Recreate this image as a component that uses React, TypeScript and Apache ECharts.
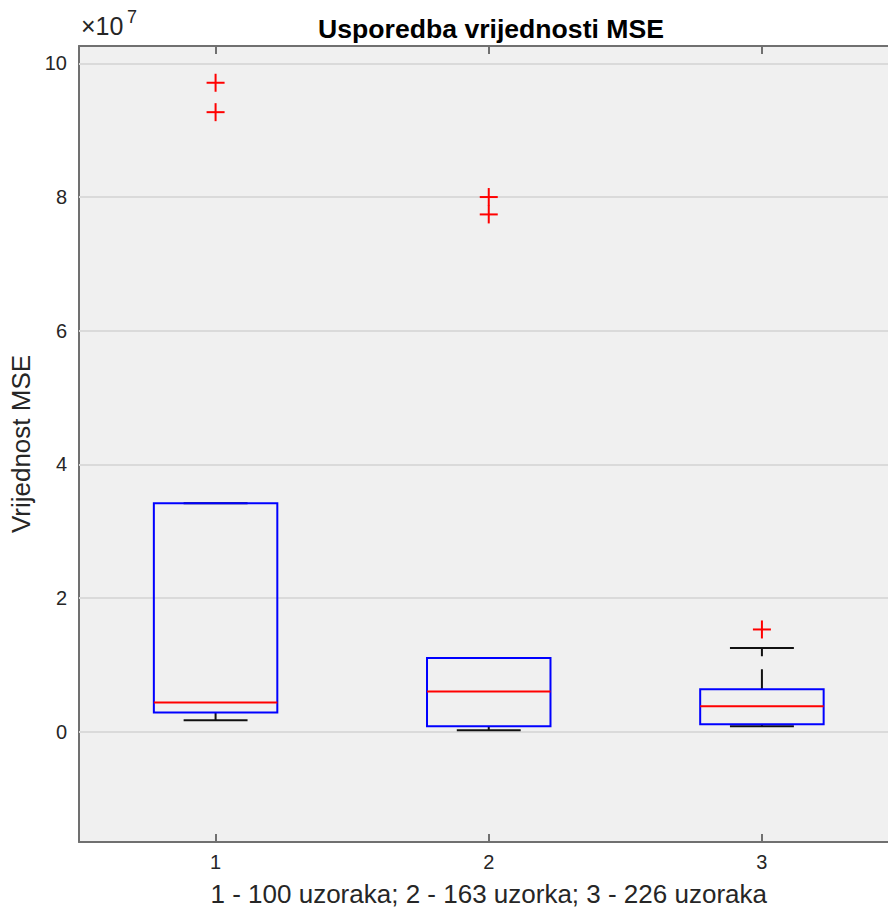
import React, { useEffect, useRef } from "react";
import * as echarts from "echarts";

// values in units of 10^7
const categories = ["1", "2", "3"];
const lowerWhisker = [0.172, 0.022, 0.082];
const q1 = [0.287, 0.082, 0.112];
const median = [0.437, 0.6, 0.382];
const q3 = [3.42, 1.104, 0.636];
const upperWhisker = [3.42, 1.104, 1.254];
const outlierGroup = [0, 0, 1, 1, 2];
const outlierValue = [9.71, 9.27, 8.0, 7.74, 1.53];
const yTicks = [0, 2, 4, 6, 8, 10];

const FONT = "Liberation Sans, Arial, Helvetica, sans-serif";
const AXIS = "#707070";
const TXT = "#262626";

export default function App() {
  const ref = useRef<HTMLDivElement>(null);
  useEffect(() => {
    if (!ref.current) return;
    const chart = echarts.init(ref.current, undefined, { renderer: "svg" });
    const boxData = categories.map((_, i) => [i, lowerWhisker[i], q1[i], median[i], q3[i], upperWhisker[i]]);
    const outData = outlierGroup.map((g, i) => [g, outlierValue[i]]);

    const option: any = {
      animation: false,
      backgroundColor: "#ffffff",
      textStyle: { fontFamily: FONT },
      title: {
        text: "Usporedba vrijednosti MSE",
        left: 486,
        top: 10,
        textAlign: "center",
        textStyle: { fontSize: 26.6, fontWeight: "bold", color: "#000", fontFamily: FONT },
      },
      graphic: [
        { type: "text", left: 81, top: 13, style: { text: "×10", fontSize: 25, fill: TXT, fontFamily: FONT } },
        { type: "text", left: 127, top: 8, style: { text: "7", fontSize: 18, fill: TXT, fontFamily: FONT } },
      ],
      grid: {
        left: 79,
        width: 819.5,
        top: 46,
        bottom: 70,
        outerBoundsMode: "none",
        containLabel: false,
        show: true,
        backgroundColor: "#f0f0f0",
        borderWidth: 0,
      },
      xAxis: [
        {
          type: "category",
          data: categories,
          position: "bottom",
          boundaryGap: true,
          z: 3,
          axisLine: { show: true, onZero: false, lineStyle: { color: AXIS, width: 2 } },
          axisTick: { show: true, inside: true, alignWithLabel: true, length: 8, lineStyle: { color: AXIS, width: 2 } },
          axisLabel: { fontSize: 20, color: TXT, margin: 10, fontFamily: FONT },
          splitLine: { show: false },
          name: "1 - 100 uzoraka; 2 - 163 uzorka; 3 - 226 uzoraka",
          nameLocation: "middle",
          nameGap: 39,
          nameTextStyle: { fontSize: 26, color: TXT, fontFamily: FONT },
        },
        {
          type: "category",
          data: categories,
          position: "top",
          boundaryGap: true,
          z: 3,
          axisLine: { show: true, onZero: false, lineStyle: { color: AXIS, width: 2 } },
          axisTick: { show: true, inside: true, alignWithLabel: true, length: 8, lineStyle: { color: AXIS, width: 2 } },
          axisLabel: { show: false },
          splitLine: { show: false },
        },
      ],
      yAxis: {
        type: "value",
        min: -1.65,
        max: 10.26,
        z: 3,
        axisLine: { show: true, onZero: false, lineStyle: { color: AXIS, width: 2 } },
        axisTick: { show: true, inside: true, length: 8, customValues: yTicks, lineStyle: { color: AXIS, width: 2 } },
        axisLabel: { customValues: yTicks, fontSize: 20, color: TXT, margin: 12, fontFamily: FONT, formatter: (v: number) => String(v) },
        splitLine: { show: false },
        name: "Vrijednost MSE",
        nameLocation: "middle",
        nameRotate: 90,
        nameGap: 44,
        nameTextStyle: { fontSize: 26, color: TXT, fontFamily: FONT },
      },
      series: [
        {
          type: "scatter",
          data: [],
          z: 1,
          silent: true,
          markLine: {
            silent: true,
            symbol: "none",
            label: { show: false },
            lineStyle: { color: "#dadada", width: 2, type: "solid" },
            data: yTicks.map((v) => ({ yAxis: v })),
          },
        },
        {
          type: "custom",
          z: 5,
          data: boxData,
          encode: { x: 0, y: [1, 2, 3, 4, 5] },
          renderItem: (params: any, api: any) => {
            const idx = api.value(0);
            const pLW = api.coord([idx, api.value(1)]);
            const pQ1 = api.coord([idx, api.value(2)]);
            const pMed = api.coord([idx, api.value(3)]);
            const pQ3 = api.coord([idx, api.value(4)]);
            const pUW = api.coord([idx, api.value(5)]);
            const band = api.size([1, 0])[0];
            const cx = pMed[0];
            const hb = band * 0.226;
            const hc = band * 0.117;
            const wStyle = { stroke: "#111", lineWidth: 2, lineDash: [20, 13] };
            const cStyle = { stroke: "#111", lineWidth: 2 };
            const children: any[] = [
              { type: "line", shape: { x1: cx, y1: pQ3[1], x2: cx, y2: pUW[1] }, style: wStyle },
              { type: "line", shape: { x1: cx, y1: pQ1[1], x2: cx, y2: pLW[1] }, style: wStyle },
              { type: "line", shape: { x1: cx - hc, y1: pUW[1], x2: cx + hc, y2: pUW[1] }, style: cStyle },
              { type: "line", shape: { x1: cx - hc, y1: pLW[1], x2: cx + hc, y2: pLW[1] }, style: cStyle },
              {
                type: "rect",
                shape: { x: cx - hb, y: pQ3[1], width: 2 * hb, height: pQ1[1] - pQ3[1] },
                style: { fill: "none", stroke: "#0000ff", lineWidth: 2 },
              },
              { type: "line", shape: { x1: cx - hb, y1: pMed[1], x2: cx + hb, y2: pMed[1] }, style: { stroke: "#ff0000", lineWidth: 2 } },
            ];
            return { type: "group", children };
          },
        },
        {
          type: "custom",
          z: 6,
          data: outData,
          encode: { x: 0, y: 1 },
          renderItem: (params: any, api: any) => {
            const p = api.coord([api.value(0), api.value(1)]);
            const h = 9;
            const st = { stroke: "#ff0000", lineWidth: 2 };
            return {
              type: "group",
              children: [
                { type: "line", shape: { x1: p[0] - h, y1: p[1], x2: p[0] + h, y2: p[1] }, style: st },
                { type: "line", shape: { x1: p[0], y1: p[1] - h, x2: p[0], y2: p[1] + h }, style: st },
              ],
            };
          },
        },
      ],
    };
    chart.setOption(option);
    return () => chart.dispose();
  }, []);
  return <div ref={ref} style={{ position: "fixed", left: 0, top: 0, width: 888, height: 912 }} />;
}
